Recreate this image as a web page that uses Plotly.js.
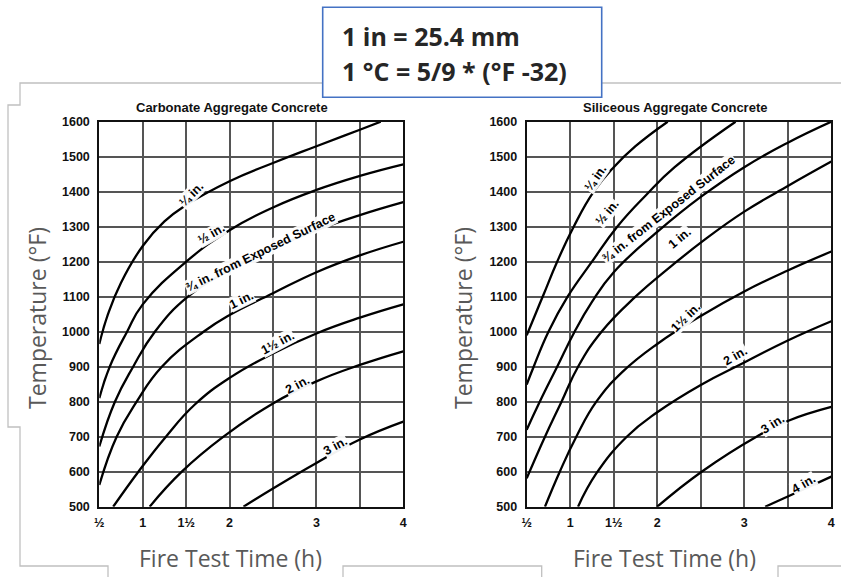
<!DOCTYPE html>
<html>
<head>
<meta charset="utf-8">
<script src="https://cdn.plot.ly/plotly-3.0.1.min.js"></script>
<style>html,body{margin:0;padding:0;background:#fff;}#chart{width:841px;height:577px;}</style>
</head>
<body>
<div id="chart"></div>
<script>
// ---------- DATA ----------
const xTickVals = [0.5, 1, 1.5, 2, 2.5, 3, 3.5, 4];
const xTickText = ['½', '1', '1½', '2', '', '3', '', '4'];
const yTickVals = [500, 600, 700, 800, 900, 1000, 1100, 1200, 1300, 1400, 1500, 1600];

// Carbonate aggregate concrete (hours, °F)
const carbQuarterT = [0.5, 0.6, 0.75, 1.0, 1.25, 1.5, 2.0, 2.5, 3.0, 3.5, 3.74];
const carbQuarterF = [965, 1050, 1140, 1245, 1315, 1362, 1430, 1482, 1530, 1577, 1600];
const carbHalfT = [0.5, 0.62, 0.82, 1.0, 1.5, 2.0, 2.5, 3.0, 3.5, 4];
const carbHalfF = [810, 900, 1000, 1078, 1200, 1290, 1355, 1405, 1445, 1478];
const carbThreeQT = [0.5, 0.68, 0.89, 1.14, 1.52, 2.0, 2.5, 3.0, 3.5, 4];
const carbThreeQF = [672, 800, 900, 1000, 1100, 1176, 1238, 1290, 1333, 1370];
const carbOneT = [0.5, 0.7, 0.93, 1.22, 1.7, 2.0, 2.5, 3.0, 3.5, 4];
const carbOneF = [562, 700, 800, 900, 1000, 1048, 1110, 1170, 1218, 1257];
const carbOneHalfT = [0.66, 0.95, 1.26, 1.6, 2.0, 2.5, 3.0, 3.5, 4];
const carbOneHalfF = [500, 600, 698, 792, 868, 938, 995, 1040, 1078];
const carbTwoT = [1.08, 1.45, 1.93, 2.5, 3.0, 3.5, 4];
const carbTwoF = [500, 600, 700, 795, 858, 905, 944];
const carbThreeT = [2.16, 2.5, 3.0, 3.5, 4];
const carbThreeF = [500, 552, 625, 692, 743];

// Siliceous aggregate concrete (hours, °F)
const silQuarterT = [0.5, 0.6, 0.7, 0.85, 1.04, 1.27, 1.5, 1.75, 2.12];
const silQuarterF = [990, 1050, 1110, 1200, 1300, 1400, 1470, 1530, 1600];
const silHalfT = [0.5, 0.58, 0.75, 0.97, 1.25, 1.54, 1.87, 2.2, 2.9];
const silHalfF = [849, 900, 1000, 1100, 1200, 1300, 1390, 1470, 1600];
const silThreeQT = [0.5, 0.65, 0.85, 1.05, 1.25, 1.5, 2.0, 2.5, 3.0, 3.5, 4];
const silThreeQF = [720, 800, 900, 1000, 1085, 1170, 1285, 1385, 1470, 1540, 1600];
const silOneT = [0.5, 0.71, 0.9, 1.09, 1.36, 1.75, 2.15, 2.53, 3.0, 3.52, 4];
const silOneF = [581, 700, 800, 900, 1000, 1100, 1185, 1260, 1343, 1419, 1486];
const silOneHalfT = [0.71, 0.88, 1.07, 1.3, 1.6, 2.0, 2.5, 3.0, 3.5, 4];
const silOneHalfF = [500, 600, 700, 800, 885, 965, 1045, 1115, 1175, 1229];
const silTwoT = [1.09, 1.3, 1.65, 2.0, 2.5, 3.0, 3.5, 4];
const silTwoF = [500, 595, 700, 770, 848, 912, 975, 1030];
const silThreeT = [2.0, 2.51, 3.14, 3.5, 4];
const silThreeF = [500, 600, 700, 745, 785];
const silFourT = [3.24, 3.5, 4];
const silFourF = [500, 529, 586];

// ---------- LAYOUT HELPERS ----------
const W = 841, H = 577;
const px = x => x / W;
const py = y => 1 - y / H;

function curve(t, f, ax) {
  return {
    x: t, y: f, type: 'scatter', mode: 'lines',
    xaxis: 'x' + ax, yaxis: 'y' + ax,
    line: {color: '#000', width: 2.3, shape: 'spline', smoothing: 1.3},
    hoverinfo: 'skip', showlegend: false
  };
}

const traces = [
  curve(carbQuarterT, carbQuarterF, ''),
  curve(carbHalfT, carbHalfF, ''),
  curve(carbThreeQT, carbThreeQF, ''),
  curve(carbOneT, carbOneF, ''),
  curve(carbOneHalfT, carbOneHalfF, ''),
  curve(carbTwoT, carbTwoF, ''),
  curve(carbThreeT, carbThreeF, ''),
  curve(silQuarterT, silQuarterF, '2'),
  curve(silHalfT, silHalfF, '2'),
  curve(silThreeQT, silThreeQF, '2'),
  curve(silOneT, silOneF, '2'),
  curve(silOneHalfT, silOneHalfF, '2'),
  curve(silTwoT, silTwoF, '2'),
  curve(silThreeT, silThreeF, '2'),
  curve(silFourT, silFourF, '2')
];

const tickFont = {family: 'Liberation Sans, Arial, sans-serif', size: 12.5, color: '#111', weight: 'bold'};
function xAxis(domain, anchor) {
  return {
    domain: domain, range: [0.5, 4], tickvals: xTickVals, ticktext: xTickText, anchor: anchor,
    showgrid: true, gridcolor: '#555', gridwidth: 2,
    showline: true, mirror: true, linecolor: '#111', linewidth: 2,
    ticks: '', ticklabelstandoff: 3, tickfont: tickFont, zeroline: false, fixedrange: true
  };
}
function yAxis(domain, anchor) {
  return {
    domain: domain, range: [500, 1600], tickvals: yTickVals, anchor: anchor,
    showgrid: true, gridcolor: '#555', gridwidth: 2,
    showline: true, mirror: true, linecolor: '#111', linewidth: 2,
    ticks: '', ticklabelstandoff: 5, tickfont: tickFont, zeroline: false, fixedrange: true
  };
}

const yDom = [py(506.7), py(121.7)];
const labelFont = {family: 'Liberation Sans, Arial, sans-serif', size: 12.5, color: '#000', weight: 'bold'};
function lab(text, x, y, ang, ax) {
  return {text: text, x: x, y: y, xref: 'x' + ax, yref: 'y' + ax, showarrow: false,
          xanchor: 'center', yanchor: 'middle',
          textangle: ang, font: labelFont, bgcolor: 'rgba(255,255,255,0.95)', borderpad: 0};
}
function ptext(text, x, y, font, extra) {
  return Object.assign({text: text, x: px(x), y: py(y), xref: 'paper', yref: 'paper', showarrow: false,
          xanchor: 'center', yanchor: 'middle', font: font}, extra || {});
}

const titleFont = {family: 'Open Sans, sans-serif', size: 23, color: '#595959'};
const panelFont = {family: 'Liberation Sans, Arial, sans-serif', size: 13, color: '#111', weight: 'bold'};
const boxFont = {family: 'Open Sans, sans-serif', size: 25, color: '#262626', weight: 'bold'};
const annotations = [
  lab('¼ in.', 1.55, 1392, -45, ''),
  lab('½ in.', 1.79, 1280, -30, ''),
  lab('¾ in. from Exposed Surface', 2.36, 1228, -26, ''),
  lab('1 in.', 2.14, 1090, -26, ''),
  lab('1½ in.', 2.55, 968, -28, ''),
  lab('2 in.', 2.78, 848, -28, ''),
  lab('3 in.', 3.22, 673, -28, ''),
  lab('¼ in.', 1.29, 1440, -55, '2'),
  lab('½ in.', 1.42, 1340, -50, '2'),
  lab('¾ in. from Exposed Surface', 2.13, 1352, -38, '2'),
  lab('1 in.', 2.26, 1268, -40, '2'),
  lab('1½ in.', 2.32, 1040, -45, '2'),
  lab('2 in.', 2.9, 930, -30, '2'),
  lab('3 in.', 3.33, 737, -32, '2'),
  lab('4 in.', 3.68, 566, -30, '2'),
  ptext('Carbonate Aggregate Concrete', 232, 107.5, panelFont),
  ptext('Siliceous Aggregate Concrete', 675, 107.5, panelFont),
  ptext('Temperature (°F)', 37, 318, titleFont, {textangle: -90}),
  ptext('Temperature (°F)', 463, 318, titleFont, {textangle: -90}),
  ptext('Fire Test Time (h)', 230, 558, titleFont),
  ptext('Fire Test Time (h)', 664, 558, titleFont),
  ptext('1 in = 25.4 mm', 340, 36, boxFont, {xanchor: 'left'}),
  ptext('1 °C = 5/9 * (°F -32)', 340, 71, boxFont, {xanchor: 'left'})
];

function pathOf(points) {
  return points.map((p, i) => (i ? 'L' : 'M') + px(p[0]) + ',' + py(p[1])).join(' ');
}
const frameLine = {color: '#c0c0c0', width: 1.3};
const shapes = [
  {type: 'path', xref: 'paper', yref: 'paper', line: frameLine,
   path: pathOf([[322, 83], [20, 83], [20, 105], [8, 105], [8, 427], [20, 427], [20, 566], [108, 566], [108, 577]])},
  {type: 'path', xref: 'paper', yref: 'paper', line: frameLine,
   path: pathOf([[343, 577], [343, 566], [541.7, 566], [541.7, 577]])},
  {type: 'path', xref: 'paper', yref: 'paper', line: frameLine,
   path: pathOf([[778, 577], [778, 566], [841, 566]])},
  {type: 'path', xref: 'paper', yref: 'paper', line: frameLine,
   path: pathOf([[602, 83], [841, 83]])},
  {type: 'rect', xref: 'paper', yref: 'paper', x0: px(322.7), x1: px(601.7), y0: py(97.3), y1: py(7.3),
   line: {color: '#4472C4', width: 1.6}, fillcolor: '#fff'}
];

const layout = {
  width: W, height: H,
  margin: {l: 0, r: 0, t: 0, b: 0},
  paper_bgcolor: '#fff', plot_bgcolor: '#fff',
  showlegend: false,
  xaxis: xAxis([px(99.3), px(403.3)], 'y'),
  yaxis: yAxis(yDom, 'x'),
  xaxis2: xAxis([px(526.7), px(831.3)], 'y2'),
  yaxis2: yAxis(yDom, 'x2'),
  annotations: annotations,
  shapes: shapes
};

Plotly.newPlot('chart', traces, layout, {displayModeBar: false, staticPlot: true});
</script>
</body>
</html>
